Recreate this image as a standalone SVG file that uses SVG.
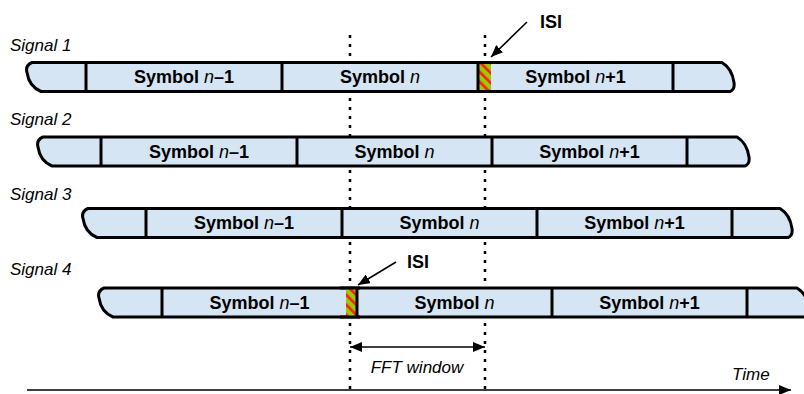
<svg xmlns="http://www.w3.org/2000/svg" width="804" height="394" viewBox="0 0 804 394">
<style>
.bar{fill:#d5e5f4;stroke:#000;stroke-width:3;stroke-linejoin:round}
.div{stroke:#000;stroke-width:3}
.sym{font-family:"Liberation Sans",Arial,sans-serif;font-size:18px;font-weight:bold;fill:#000;text-anchor:middle}
.n{font-style:italic;font-weight:normal}
.lbl{font-family:"Liberation Sans",Arial,sans-serif;font-size:17px;font-style:italic;fill:#000}
.isi{font-family:"Liberation Sans",Arial,sans-serif;font-size:18px;font-weight:bold;fill:#000}
.dot{stroke:#000;stroke-width:2.5;stroke-dasharray:3 6;fill:none}
.arr{stroke:#000;stroke-width:1.6;fill:none}
</style>
<defs>
<pattern id="hatch" width="7" height="7" patternUnits="userSpaceOnUse" patternTransform="rotate(-45)">
<rect width="7" height="7" fill="#99cc00"/>
<rect width="2.6" height="7" fill="#ff1a1a"/>
</pattern>
<marker id="ah" viewBox="0 0 12 10" refX="12" refY="5" markerWidth="12" markerHeight="10" orient="auto-start-reverse" markerUnits="userSpaceOnUse">
<path d="M0,0 L12,5 L0,10 Z" fill="#000"/>
</marker>
</defs>

<g id="guides">
<line class="dot" x1="350" y1="35" x2="350" y2="394"/>
<line class="dot" x1="485" y1="35" x2="485" y2="394"/>
</g>

<g id="signal1">
<text class="lbl" x="10" y="51">Signal 1</text>
<path class="bar" d="M32,62.5 L722,62.5 Q732,68.5 734,82.5 Q735,89.5 730,91.5 L41,91.5 Q29,86.5 27,72.5 Q25,65.5 32,62.5 Z"/>
<rect x="478" y="62.5" width="13" height="29" fill="url(#hatch)"/>
<line class="div" x1="86" y1="62.5" x2="86" y2="91.5"/>
<line class="div" x1="282" y1="62.5" x2="282" y2="91.5"/>
<line class="div" x1="478" y1="62.5" x2="478" y2="91.5"/>
<line class="div" x1="673" y1="62.5" x2="673" y2="91.5"/>
<path d="M32,62.5 L722,62.5 M41,91.5 L730,91.5" stroke="#000" stroke-width="3" fill="none"/>
<text class="sym" x="184" y="83">Symbol <tspan class="n">n</tspan>–1</text>
<text class="sym" x="380" y="83">Symbol <tspan class="n">n</tspan></text>
<text class="sym" x="575.5" y="83">Symbol <tspan class="n">n</tspan>+1</text>
</g>

<g id="signal2">
<text class="lbl" x="10" y="125">Signal 2</text>
<path class="bar" d="M43,137 L737,137 Q747,143 749,157 Q750,164 745,166 L52,166 Q40,161 38,147 Q36,140 43,137 Z"/>
<line class="div" x1="101" y1="137" x2="101" y2="166"/>
<line class="div" x1="297" y1="137" x2="297" y2="166"/>
<line class="div" x1="492" y1="137" x2="492" y2="166"/>
<line class="div" x1="687" y1="137" x2="687" y2="166"/>
<text class="sym" x="199" y="157.5">Symbol <tspan class="n">n</tspan>–1</text>
<text class="sym" x="394.5" y="157.5">Symbol <tspan class="n">n</tspan></text>
<text class="sym" x="589.5" y="157.5">Symbol <tspan class="n">n</tspan>+1</text>
</g>

<g id="signal3">
<text class="lbl" x="10" y="200">Signal 3</text>
<path class="bar" d="M88,208.5 L780,208.5 Q790,214.5 792,228.5 Q793,235.5 788,237.5 L97,237.5 Q85,232.5 83,218.5 Q81,211.5 88,208.5 Z"/>
<line class="div" x1="146" y1="208.5" x2="146" y2="237.5"/>
<line class="div" x1="342" y1="208.5" x2="342" y2="237.5"/>
<line class="div" x1="537" y1="208.5" x2="537" y2="237.5"/>
<line class="div" x1="732" y1="208.5" x2="732" y2="237.5"/>
<text class="sym" x="244" y="229">Symbol <tspan class="n">n</tspan>–1</text>
<text class="sym" x="439.5" y="229">Symbol <tspan class="n">n</tspan></text>
<text class="sym" x="634.5" y="229">Symbol <tspan class="n">n</tspan>+1</text>
</g>

<g id="signal4">
<text class="lbl" x="10" y="275">Signal 4</text>
<path class="bar" d="M104,288 L797,288 Q807,294 809,308 Q810,315 805,317 L113,317 Q101,312 99,298 Q97,291 104,288 Z"/>
<rect x="346" y="288" width="11" height="29" fill="url(#hatch)"/>
<line class="div" x1="162" y1="288" x2="162" y2="317"/>
<line class="div" x1="357" y1="288" x2="357" y2="317"/>
<line class="div" x1="552" y1="288" x2="552" y2="317"/>
<line class="div" x1="747" y1="288" x2="747" y2="317"/>
<path d="M340,288 L360,288 M340,317 L360,317" stroke="#000" stroke-width="3" fill="none"/>
<text class="sym" x="259.5" y="308.5">Symbol <tspan class="n">n</tspan>–1</text>
<text class="sym" x="454.5" y="308.5">Symbol <tspan class="n">n</tspan></text>
<text class="sym" x="649.5" y="308.5">Symbol <tspan class="n">n</tspan>+1</text>
</g>

<g id="isi1">
<text class="isi" x="540" y="28">ISI</text>
</g>
<g id="isi2">
<text class="isi" x="407" y="268">ISI</text>
</g>
<g id="fft">
<text class="lbl" x="417" y="373" text-anchor="middle">FFT window</text>
</g>
<g id="time">
<text class="lbl" x="732" y="380">Time</text>
</g>

<g id="connectors">
<line class="arr" x1="527" y1="22" x2="491" y2="57" marker-end="url(#ah)"/>
<line class="arr" x1="396" y1="262" x2="358" y2="285" marker-end="url(#ah)"/>
<line class="arr" x1="350" y1="347" x2="485" y2="347" stroke-width="2" marker-start="url(#ah)" marker-end="url(#ah)"/>
<line class="arr" x1="27" y1="390" x2="791" y2="390" stroke-width="2" marker-end="url(#ah)"/>
</g>
</svg>
